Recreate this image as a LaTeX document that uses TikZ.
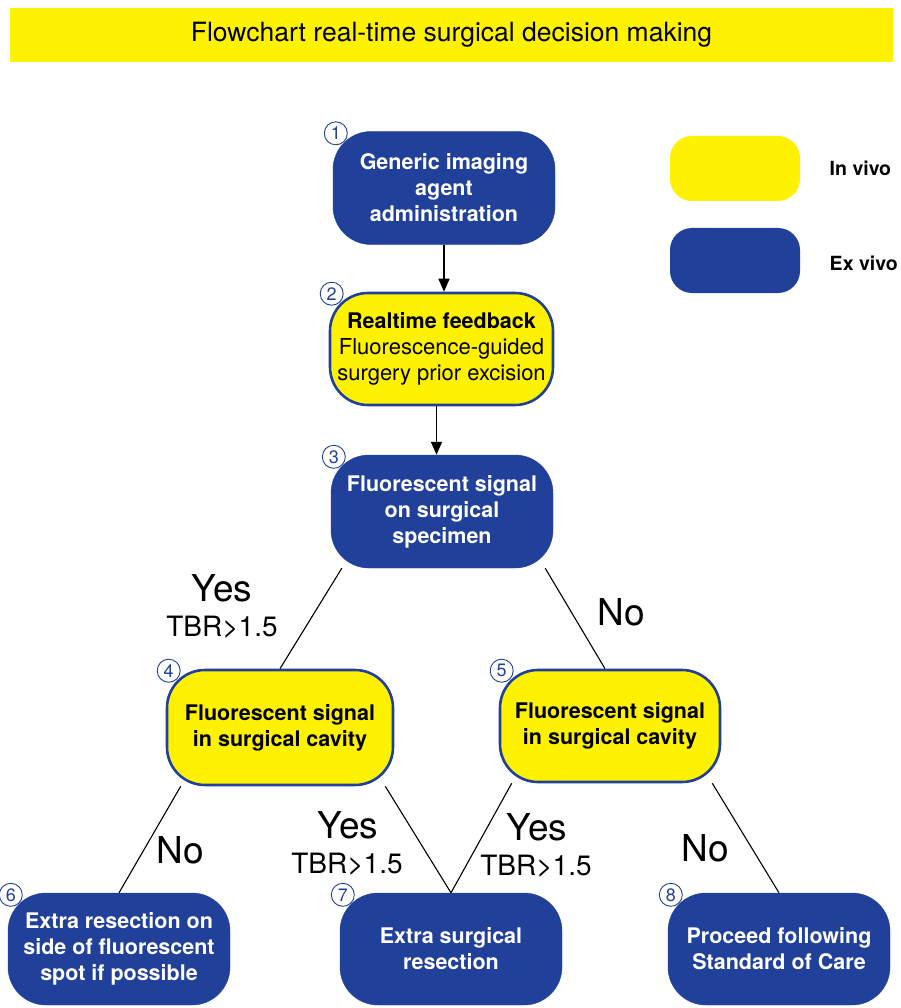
\documentclass[tikz,border=0pt]{standalone}
\usepackage{fontspec}
\setmainfont{TeX Gyre Heros}
\usepackage{xcolor}
\usetikzlibrary{positioning,arrows.meta,backgrounds}
\definecolor{exblue}{HTML}{21409A}
\definecolor{inyellow}{HTML}{FFF200}

\begin{document}
\begin{tikzpicture}[
  x=1pt, y=-1pt,
  box/.style={rounded corners=38pt, align=center, minimum width=222pt, minimum height=113pt, inner sep=0pt, font=\fontsize{21.5}{26}\selectfont\bfseries},
  exvivo/.style={box, fill=exblue, draw=exblue, text=white},
  invivo/.style={box, fill=inyellow, draw=exblue, line width=2.6pt, text=black},
  key/.style={rounded corners=22pt, minimum width=130pt, minimum height=65pt},
  keytext/.style={font=\fontsize{19.5}{19.5}\selectfont\bfseries},
  num/.style={circle, draw=exblue, text=exblue, line width=0.9pt, minimum size=23pt, inner sep=0pt, font=\fontsize{18}{18}\selectfont},
  answer/.style={font=\fontsize{37}{37}\selectfont},
  ratio/.style={font=\fontsize{28}{28}\selectfont},
  flow/.style={-{Triangle[width=11pt,length=13pt]}, line width=1.4pt},
  link/.style={line width=1.1pt}
]
\useasboundingbox (0,0) rectangle (901,1008);

% title and legend
\node[fill=inyellow, minimum width=883pt, minimum height=54pt, font=\fontsize{26.5}{26.5}\selectfont] (title) at (451.5,35) {Flowchart real-time surgical decision making};
\node[key, fill=inyellow] (keyin) at (735,168.5) {};
\node[key, fill=exblue] (keyex) at (735,260.5) {};
\node[keytext, right=26pt of keyin] (keyintext) {In vivo};
\node[keytext, right=26pt of keyex, yshift=-3pt] (keyextext) {Ex vivo};

% steps
\node[exvivo] (agent) at (444,188) {Generic imaging\\agent\\administration};
\node[invivo, minimum width=223pt, minimum height=112pt] (feedback) at (441.5,349) {Realtime feedback\\\mdseries\fontsize{22}{26}\selectfont Fluorescence-guided\\\mdseries\fontsize{22}{26}\selectfont surgery prior excision};
\node[exvivo] (specimen) at (442,511.5) {Fluorescent signal\\on surgical\\specimen};
\node[invivo, minimum width=226pt, minimum height=115pt] (cavityyes) at (280,727.5) {Fluorescent signal\\in surgical cavity};
\node[invivo, minimum width=220pt, minimum height=112pt] (cavityno) at (610,726) {Fluorescent signal\\in surgical cavity};
\node[exvivo, minimum height=112pt] (sidecut) at (119,949) {Extra resection on\\side of fluorescent\\spot if possible};
\node[exvivo, minimum height=112pt] (extracut) at (451,949) {Extra surgical\\resection};
\node[exvivo, minimum height=112pt] (standard) at (779,949) {Proceed following\\Standard of Care};

% step numbers
\foreach \n/\b in {1/agent, 2/feedback, 3/specimen, 4/cavityyes, 5/cavityno, 6/sidecut, 7/extracut, 8/standard}
  \node[num] (num\n) at ([shift={(3,2)}]\b.north west) {\n};

\draw[flow] (agent.south) -- (agent.south |- feedback.north);
\draw[flow] ([xshift=-5pt]feedback.south) -- ([xshift=-5pt]feedback.south |- specimen.north);

\begin{scope}[on background layer]
\draw[link] ([xshift=11pt]specimen.south west) -- (cavityyes.north);
\draw[link] ([xshift=-8pt]specimen.south east) -- ([xshift=-5pt]cavityno.north);
\draw[link] ([xshift=15pt]cavityyes.south west) -- (sidecut.north);
\draw[link] ([xshift=-9pt]cavityyes.south east) -- (extracut.north);
\draw[link] ([xshift=13pt]cavityno.south west) -- (extracut.north);
\draw[link] ([xshift=-9pt]cavityno.south east) -- (standard.north);
\end{scope}

% answers
\node[answer] (yesfirst) at (222,588) {Yes};
\node[ratio] (tbrfirst) at (222,627) {TBR>1.5};
\node[answer] (nofirst) at (621,612) {No};
\node[answer] (noleft) at (180,850) {No};
\node[answer] (yesleft) at (348,825) {Yes};
\node[ratio] (tbrleft) at (347,864) {TBR>1.5};
\node[answer] (yesright) at (537,827) {Yes};
\node[ratio] (tbrright) at (536,866) {TBR>1.5};
\node[answer] (noright) at (705,848) {No};
\end{tikzpicture}
\end{document}
